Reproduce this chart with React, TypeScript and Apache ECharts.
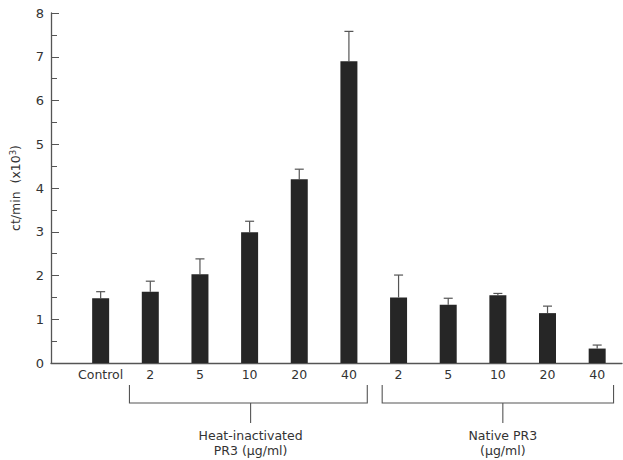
import React, { useEffect, useRef } from "react";
import * as echarts from "echarts";

const categories = ["Control", "2", "5", "10", "20", "40", "2", "5", "10", "20", "40"];
const means = [1.48, 1.63, 2.03, 2.99, 4.2, 6.9, 1.5, 1.33, 1.55, 1.14, 0.33];
const sems = [0.15, 0.24, 0.35, 0.25, 0.23, 0.68, 0.51, 0.15, 0.04, 0.16, 0.08];
const yTicks = [0, 1, 2, 3, 4, 5, 6, 7, 8];
const groupLabels = ["Heat-inactivated\nPR3 (µg/ml)", "Native PR3\n(µg/ml)"];
const groupFrom = [1.58, 6.67];
const groupTo = [6.37, 11.33];
const groupMid = [4.02, 9.1];

const FONT = "'DejaVu Sans', Verdana, sans-serif";

export default function App() {
  const ref = useRef<HTMLDivElement>(null);
  useEffect(() => {
    if (!ref.current) return;
    const chart = echarts.init(ref.current, undefined, { renderer: "svg" });
    const positions = categories.map((_, i) => i + 1);
    chart.setOption({
      animation: false,
      backgroundColor: "#fff",
      grid: { left: 50, right: 1, top: 13, bottom: 97 },
      xAxis: {
        type: "value",
        min: 0,
        max: 11.5,
        interval: 1,
        splitLine: { show: false },
        axisTick: { show: false },
        axisLine: { show: true, lineStyle: { color: "#555", width: 1.3 } },
        axisLabel: {
          color: "#333",
          fontFamily: FONT,
          fontSize: 12.5,
          margin: 5,
          showMaxLabel: false,
          showMinLabel: true,
          formatter: (v: number) => {
            const i = Math.round(v) - 1;
            return Math.abs(v - Math.round(v)) < 1e-6 && i >= 0 && i < categories.length ? categories[i] : "";
          },
        },
      },
      yAxis: {
        type: "value",
        min: yTicks[0],
        max: yTicks[yTicks.length - 1],
        interval: 1,
        splitLine: { show: false },
        axisLine: { show: true, lineStyle: { color: "#555", width: 1.3 } },
        axisTick: { show: true, inside: true, length: 8, lineStyle: { color: "#555" } },
        minorTick: { show: true, splitNumber: 2, length: 6, lineStyle: { color: "#555" } },
        axisLabel: { color: "#333", fontFamily: FONT, fontSize: 13, margin: 7 },
        name: "{n|ct/min  (x10}{s|3}{n|)}",
        nameLocation: "middle",
        nameRotate: 90,
        nameGap: 28,
        nameTextStyle: {
          rich: {
            n: { fontFamily: FONT, fontSize: 12.5, color: "#333" },
            s: { fontFamily: FONT, fontSize: 8.5, color: "#333", verticalAlign: "top", padding: [0, 0, 6, 0] },
          },
        },
      },
      series: [
        {
          type: "bar",
          barWidth: 17,
          itemStyle: { color: "#262626" },
          data: positions.map((p, i) => [p, means[i]]),
        },
        {
          type: "custom",
          clip: false,
          renderItem: (params: any, api: any) => {
            const x = api.value(0);
            const m = api.value(1);
            const u = api.value(2);
            const p0 = api.coord([x, m]);
            const p1 = api.coord([x, u]);
            return {
              type: "group",
              children: [
                { type: "line", shape: { x1: p0[0], y1: p0[1], x2: p1[0], y2: p1[1] }, style: { stroke: "#555", lineWidth: 1.2 } },
                { type: "line", shape: { x1: p1[0] - 4.5, y1: p1[1], x2: p1[0] + 4.5, y2: p1[1] }, style: { stroke: "#555", lineWidth: 1.2 } },
              ],
            };
          },
          data: positions.map((p, i) => [p, means[i], means[i] + sems[i]]),
        },
        {
          type: "custom",
          clip: false,
          renderItem: (params: any, api: any) => {
            const a = api.coord([api.value(0), 0]);
            const b = api.coord([api.value(1), 0]);
            const c = api.coord([api.value(2), 0]);
            const y0 = a[1];
            const label = groupLabels[params.dataIndex];
            return {
              type: "group",
              children: [
                {
                  type: "polyline",
                  shape: { points: [[a[0], y0 + 22], [a[0], y0 + 40], [b[0], y0 + 40], [b[0], y0 + 22]] },
                  style: { stroke: "#555", lineWidth: 1.1, fill: null },
                },
                { type: "line", shape: { x1: c[0], y1: y0 + 40, x2: c[0], y2: y0 + 60 }, style: { stroke: "#555", lineWidth: 1.1 } },
                {
                  type: "text",
                  x: c[0],
                  y: y0 + 65,
                  style: {
                    text: label,
                    fill: "#333",
                    font: `12.5px ${FONT}`,
                    align: "center",
                    verticalAlign: "top",
                    lineHeight: 15,
                  },
                },
              ],
            };
          },
          data: groupFrom.map((f, i) => [f, groupTo[i], groupMid[i]]),
        },
      ],
    });
    return () => chart.dispose();
  }, []);
  return <div ref={ref} style={{ width: 623, height: 460, position: "absolute", left: 0, top: 0 }} />;
}
